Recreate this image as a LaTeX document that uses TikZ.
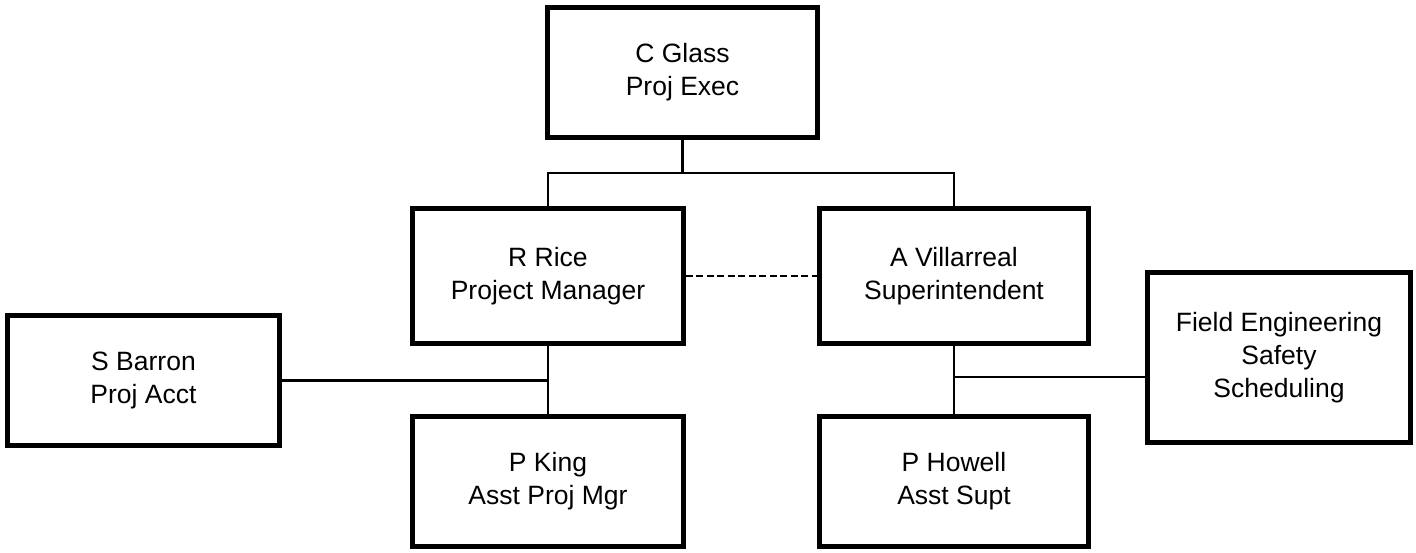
\documentclass[tikz,border=0pt]{standalone}
\usepackage{fontspec}
\setmainfont{Liberation Sans}
\begin{document}
\begin{tikzpicture}[x=1pt,y=-1pt,
  box/.style={draw, line width=4.5pt, align=center, inner sep=0pt,
    font=\fontsize{26.5}{33}\selectfont},
  conn/.style={line width=2.2pt},
  dconn/.style={line width=2.2pt, dash pattern=on 7pt off 3.5pt}]
\useasboundingbox (0,0) rectangle (1416,552);
\node[box, minimum width=270pt, minimum height=130pt] (cg) at (682.5,72.5) {C Glass\\Proj Exec};
\node[box, minimum width=271pt, minimum height=135pt] (rr) at (548,276) {R Rice\\Project Manager};
\node[box, minimum width=269pt, minimum height=135pt] (av) at (954,276) {A Villarreal\\Superintendent};
\node[box, minimum width=272pt, minimum height=130pt] (sb) at (143.5,380.5) {S Barron\\Proj Acct};
\node[box, minimum width=271pt, minimum height=130pt] (pk) at (548,481.5) {P King\\Asst Proj Mgr};
\node[box, minimum width=269pt, minimum height=130pt] (ph) at (954,481.5) {P Howell\\Asst Supt};
\node[box, minimum width=263pt, minimum height=170pt] (fe) at (1279,357.5) {Field Engineering\\Safety\\Scheduling};
\coordinate (j1) at (682.5,173);
\coordinate (j3) at (954,377);
\draw[conn] (cg) -- (j1);
\draw[conn] (j1) -| (rr.north);
\draw[conn] (j1) -| (av.north);
\draw[dconn] (rr.east) -- (av.west);
\draw[conn] (rr) -- (pk);
\draw[conn] (sb.east) -- (sb.east -| rr.south);
\draw[conn] (av) -- (ph);
\draw[conn] (j3) -- (j3 -| fe.west);
\end{tikzpicture}
\end{document}
